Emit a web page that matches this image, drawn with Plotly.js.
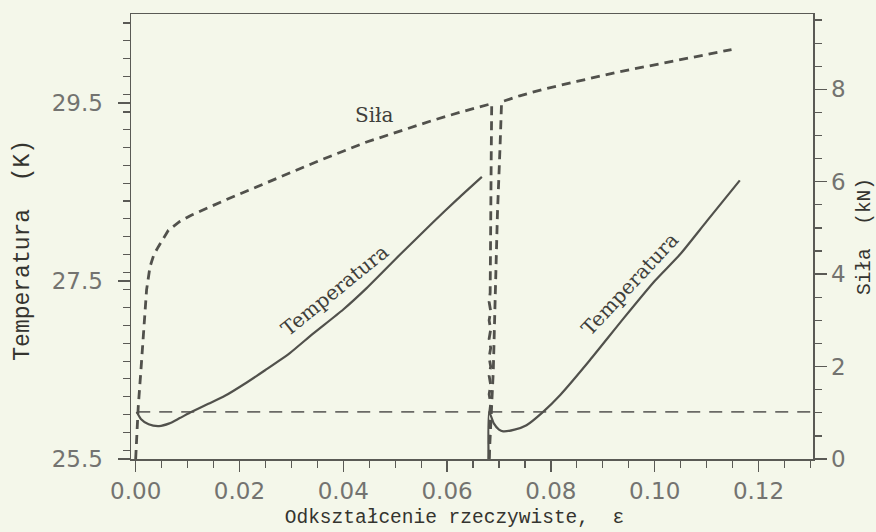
<!DOCTYPE html>
<html>
<head>
<meta charset="utf-8">
<script src="https://cdn.plot.ly/plotly-3.0.1.min.js"></script>
<style>
  html, body { margin: 0; padding: 0; background: #f4f7ea; }
  #chart { width: 876px; height: 532px; }
</style>
</head>
<body>
<div id="chart"></div>
<script>
// ---- Data ----
// Temperature, first loading cycle
const strainT1 = [0.0002, 0.0010, 0.0025, 0.0045, 0.0065, 0.0085, 0.0108, 0.0140, 0.0172, 0.0214, 0.0250, 0.0297, 0.0340, 0.0400, 0.0445, 0.0510, 0.0573, 0.0620, 0.0667];
const tempT1   = [26.03, 25.95, 25.89, 25.87, 25.90, 25.96, 26.03, 26.12, 26.21, 26.36, 26.50, 26.69, 26.90, 27.18, 27.42, 27.80, 28.16, 28.42, 28.67];

// Temperature, second loading cycle
const strainT2 = [0.0680, 0.0681, 0.0690, 0.0700, 0.0708, 0.0730, 0.0753, 0.0785, 0.0818, 0.0875, 0.0940, 0.1000, 0.1049, 0.1100, 0.1164];
const tempT2   = [25.50, 26.03, 25.90, 25.83, 25.81, 25.83, 25.88, 26.03, 26.22, 26.61, 27.08, 27.50, 27.80, 28.17, 28.63];

// Force, first loading and unloading
const strainF1 = [0.0000, 0.0005, 0.0010, 0.00146, 0.0021, 0.00276, 0.0035, 0.00435, 0.0063, 0.0085, 0.0108, 0.0172, 0.0256, 0.0317, 0.0352, 0.0445, 0.0573, 0.0630, 0.0686,
                  0.0685, 0.0684, 0.0683, 0.0681, 0.0684, 0.0681, 0.0684, 0.0681, 0.0684, 0.0681, 0.0684, 0.0681, 0.0684, 0.0681, 0.0684, 0.0682, 0.0681];
const forceF1  = [0.00, 1.14, 1.90, 2.65, 3.66, 4.16, 4.42, 4.59, 4.95, 5.14, 5.28, 5.60, 6.00, 6.30, 6.45, 6.86, 7.33, 7.52, 7.69,
                  6.50, 5.00, 3.60, 3.40, 3.20, 3.00, 2.80, 2.60, 2.40, 2.20, 2.00, 1.80, 1.60, 1.40, 1.20, 1.00, 0.00];

// Force, reloading
const strainF2 = [0.0681, 0.0685, 0.0689, 0.0692, 0.0697, 0.0702, 0.0705, 0.0740, 0.0785, 0.0850, 0.0927, 0.1000, 0.1074, 0.1148];
const forceF2  = [0.00, 1.00, 1.90, 3.20, 5.30, 6.75, 7.73, 7.86, 8.00, 8.17, 8.37, 8.53, 8.70, 8.86];

// Reference (initial) temperature level
const refStrain = [0.0003, 0.1305];
const refTemp   = [26.03, 26.03];

// Axis titles (trailing non-breaking spaces + zero-width space shift the visible text like in the original)
const xTitle  = 'Odkształcenie rzeczywiste,\u00a0\u00a0ε\u00a0\u00a0\u00a0\u200b';
const yTitle  = 'Temperatura\u00a0\u00a0(K)\u00a0\u00a0\u200b';
const y2Title = 'Siła\u00a0\u00a0(kN)';

// ---- Styling ----
const ink = '#51514c';
const axisCol = '#5a5a55';
const bg = '#f4f7ea';

const traces = [
  { x: refStrain, y: refTemp, mode: 'lines', yaxis: 'y',
    line: { color: '#6a6a66', width: 1.6, dash: '13px,9px' }, hoverinfo: 'skip' },
  { x: strainT1, y: tempT1, mode: 'lines', yaxis: 'y',
    line: { color: ink, width: 2.2, shape: 'spline', smoothing: 0.6 } },
  { x: strainT2, y: tempT2, mode: 'lines', yaxis: 'y',
    line: { color: ink, width: 2.2, shape: 'spline', smoothing: 0.6 } },
  { x: strainF1, y: forceF1, mode: 'lines', yaxis: 'y2',
    line: { color: ink, width: 2.8, dash: '9px,6px' } },
  { x: strainF2, y: forceF2, mode: 'lines', yaxis: 'y2',
    line: { color: ink, width: 2.8, dash: '9px,6px' } }
];

const tickFont = { family: 'DejaVu Sans, Liberation Sans, sans-serif', size: 23, color: '#737370' };
const titleFont = { family: 'Liberation Mono, Courier New, monospace', size: 19.5, color: '#34342f' };
const labelFont = { family: 'DejaVu Serif, serif', size: 20, color: '#3f3f3b' };

const layout = {
  width: 876, height: 532,
  paper_bgcolor: bg, plot_bgcolor: bg,
  showlegend: false,
  margin: { l: 131, r: 63, t: 14, b: 73 },
  xaxis: {
    range: [-0.0009, 0.1305],
    tick0: 0, dtick: 0.02, tickformat: '.2f',
    ticks: 'outside', ticklen: 11, tickwidth: 1.4, tickcolor: axisCol,
    minor: { dtick: 0.005, ticks: 'outside', ticklen: 7, tickwidth: 1.2, tickcolor: axisCol },
    showline: true, linecolor: axisCol, linewidth: 1.5, mirror: true,
    showgrid: false, zeroline: false,
    tickfont: tickFont,
    title: { text: xTitle, font: titleFont, standoff: 6 }
  },
  yaxis: {
    range: [25.5, 30.5],
    tick0: 25.5, dtick: 2, tickformat: '.1f',
    ticks: 'outside', ticklen: 12, tickwidth: 1.4, tickcolor: axisCol,
    minor: { dtick: 0.2, ticks: 'outside', ticklen: 7, tickwidth: 1.2, tickcolor: axisCol },
    showline: true, linecolor: axisCol, linewidth: 1.5,
    showgrid: false, zeroline: false,
    tickfont: tickFont, ticklabelstandoff: 10,
    title: { text: yTitle, font: Object.assign({}, titleFont, { size: 23 }), standoff: 15 }
  },
  yaxis2: {
    overlaying: 'y', side: 'right',
    range: [0, 9.63],
    tick0: 0, dtick: 2,
    ticks: 'outside', ticklen: 12, tickwidth: 1.4, tickcolor: axisCol,
    minor: { dtick: 0.5, ticks: 'outside', ticklen: 7, tickwidth: 1.2, tickcolor: axisCol },
    showline: true, linecolor: axisCol, linewidth: 1.5,
    showgrid: false, zeroline: false,
    tickfont: tickFont,
    title: { text: y2Title, font: titleFont, standoff: 12 }
  },
  annotations: [
    { x: 0.0461, y: 7.44, xref: 'x', yref: 'y2', text: 'Siła', showarrow: false,
      font: labelFont },
    { x: 0.0384, y: 27.40, xref: 'x', yref: 'y', text: 'Temperatura', showarrow: false,
      textangle: -39, font: labelFont },
    { x: 0.0952, y: 27.47, xref: 'x', yref: 'y', text: 'Temperatura', showarrow: false,
      textangle: -47, font: labelFont }
  ]
};

Plotly.newPlot('chart', traces, layout, { displayModeBar: false, staticPlot: true });
</script>
</body>
</html>
